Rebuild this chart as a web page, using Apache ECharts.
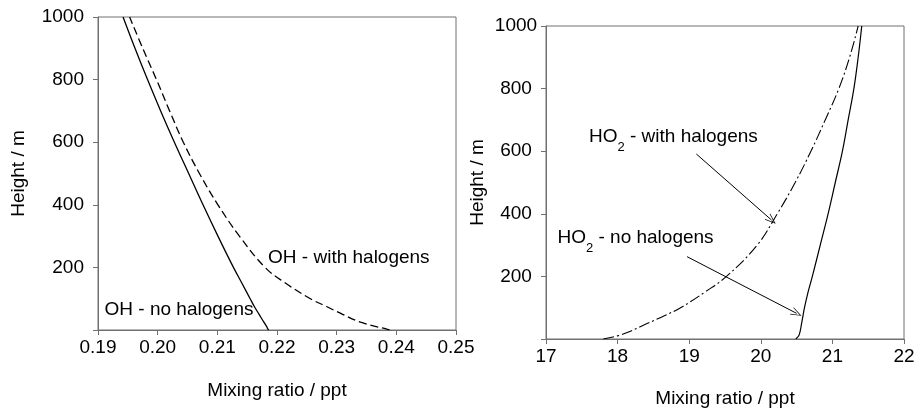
<!DOCTYPE html>
<html>
<head>
<meta charset="utf-8">
<script src="https://cdn.jsdelivr.net/npm/echarts@6/dist/echarts.min.js"></script>
<style>
html,body{margin:0;padding:0;background:#fff;}
#chart{width:916px;height:408px;}
</style>
</head>
<body>
<div id="chart"></div>
<script>
// ---- data ----
const heights = [0, 5, 10, 25, 50, 75, 100, 150, 200, 300, 400, 500, 600, 700, 800, 900, 1000];
const ohNoHalogens   = [0.2186, 0.2184, 0.2183, 0.2178, 0.2170, 0.2162, 0.2155, 0.2141, 0.2127, 0.2101, 0.2076, 0.2052, 0.2028, 0.2005, 0.1983, 0.1962, 0.1942];
const ohWithHalogens = [0.2389, 0.2380, 0.2368, 0.2340, 0.2310, 0.2283, 0.2256, 0.2214, 0.2180, 0.2137, 0.2101, 0.2070, 0.2043, 0.2020, 0.1998, 0.1975, 0.1953];
const ho2NoHalogens   = [20.49, 20.51, 20.53, 20.55, 20.57, 20.59, 20.61, 20.66, 20.72, 20.83, 20.94, 21.04, 21.14, 21.22, 21.30, 21.36, 21.41];
const ho2WithHalogens = [17.80, 17.90, 18.00, 18.18, 18.42, 18.66, 18.88, 19.22, 19.52, 19.95, 20.23, 20.48, 20.70, 20.90, 21.09, 21.24, 21.36];

const yTicks = [200, 400, 600, 800, 1000];
const ohXTicks = [0.19, 0.20, 0.21, 0.22, 0.23, 0.24, 0.25];
const ho2XTicks = [17, 18, 19, 20, 21, 22];

// annotations: [x, height]
const ohWithLabelPos = [0.2185, 230];
const ohNoLabelPos = [0.1911, 65];
const ho2WithLabelPos = [17.60, 646];
const ho2NoLabelPos = [17.16, 322];
const ho2WithArrow = [[19.10, 591], [20.15, 380]];
const ho2NoArrow = [[18.97, 263], [20.50, 82]];

function pairs(xs, ys) { return xs.map((x, i) => [x, ys[i]]); }

const FONT = 'Liberation Sans, Arial, sans-serif';
const AXC = '#707070';
const FS = 19;

function yAxis(gridIndex, labelAlign, labelMargin, nameGap) {
  return {
    type: 'value', gridIndex, min: 0, max: 1000, interval: 200,
    name: 'Height / m', nameLocation: 'middle', nameGap,
    nameTextStyle: { fontFamily: FONT, fontSize: FS, color: '#000' },
    axisLine: { show: true, lineStyle: { color: AXC, width: 1 } },
    axisTick: { show: true, length: 5, lineStyle: { color: AXC } },
    axisLabel: {
      fontFamily: FONT, fontSize: FS, color: '#000', margin: labelMargin, align: labelAlign,
      formatter: v => (yTicks.indexOf(v) >= 0 ? String(v) : '')
    },
    splitLine: { show: false }
  };
}
function xAxis(gridIndex, min, max, interval, fmt, nameGap) {
  return {
    type: 'value', gridIndex, min, max, interval,
    name: 'Mixing ratio / ppt', nameLocation: 'middle', nameGap,
    nameTextStyle: { fontFamily: FONT, fontSize: FS, color: '#000' },
    axisLine: { show: true, lineStyle: { color: AXC, width: 1 } },
    axisTick: { show: true, length: 5, lineStyle: { color: AXC } },
    axisLabel: { fontFamily: FONT, fontSize: FS, color: '#000', margin: 8, formatter: fmt },
    splitLine: { show: false }
  };
}

const richLbl = {
  n: { fontFamily: FONT, fontSize: FS, color: '#000', lineHeight: 22 },
  s: { fontFamily: FONT, fontSize: 13, color: '#000', lineHeight: 22, verticalAlign: 'bottom', padding: [0, 0, -6, 0] }
};

function labelPoint(coord, text) {
  return {
    coord, symbol: 'circle', symbolSize: 0,
    label: { show: true, position: 'right', distance: 0, formatter: text, rich: richLbl,
             fontFamily: FONT, fontSize: FS, color: '#000' }
  };
}

const chevron = 'path://M5,0 L10,12 L9.2,12.4 L5,2.2 L0.8,12.4 L0,12 Z';

function arrowLine(seg) {
  return [{ coord: seg[0], symbol: 'none' }, { coord: seg[1], symbol: chevron, symbolSize: [8, 11] }];
}

const option = {
  backgroundColor: '#fff',
  animation: false,
  grid: [
    { left: 98, top: 17, right: 460, bottom: 78, show: true, borderColor: AXC, borderWidth: 1, outerBoundsMode: 'none', containLabel: false },
    { left: 546, top: 26, right: 12, bottom: 69, show: true, borderColor: AXC, borderWidth: 1, outerBoundsMode: 'none', containLabel: false }
  ],
  xAxis: [
    xAxis(0, 0.19, 0.25, 0.01, v => v.toFixed(2), 51),
    xAxis(1, 17, 22, 1, v => String(Math.round(v)), 50)
  ],
  yAxis: [
    yAxis(0, 'right', 14, 70),
    yAxis(1, 'center', 30, 59)
  ],
  series: [
    {
      type: 'line', xAxisIndex: 0, yAxisIndex: 0, data: pairs(ohNoHalogens, heights),
      showSymbol: false, symbol: 'none', smooth: 0.4,
      lineStyle: { color: '#000', width: 1.3, type: 'solid' },
      markPoint: { silent: true, data: [labelPoint(ohNoLabelPos, 'OH - no halogens')] }
    },
    {
      type: 'line', xAxisIndex: 0, yAxisIndex: 0, data: pairs(ohWithHalogens, heights),
      showSymbol: false, symbol: 'none', smooth: 0.4,
      lineStyle: { color: '#000', width: 1.3, type: [8, 4] },
      markPoint: { silent: true, data: [labelPoint(ohWithLabelPos, 'OH - with halogens')] }
    },
    {
      type: 'line', xAxisIndex: 1, yAxisIndex: 1, data: pairs(ho2NoHalogens, heights),
      showSymbol: false, symbol: 'none', smooth: 0.4,
      lineStyle: { color: '#000', width: 1.2, type: 'solid' },
      markPoint: { silent: true, data: [labelPoint(ho2NoLabelPos, '{n|HO}{s|2}{n| - no halogens}')] },
      markLine: {
        silent: true, symbol: ['none', chevron], symbolSize: [8, 11],
        label: { show: false },
        lineStyle: { color: '#000', width: 1, type: 'solid' },
        data: [arrowLine(ho2NoArrow)]
      }
    },
    {
      type: 'line', xAxisIndex: 1, yAxisIndex: 1, data: pairs(ho2WithHalogens, heights),
      showSymbol: false, symbol: 'none', smooth: 0.4,
      lineStyle: { color: '#000', width: 1.1, type: [11, 3, 2, 3] },
      markPoint: { silent: true, data: [labelPoint(ho2WithLabelPos, '{n|HO}{s|2}{n| - with halogens}')] },
      markLine: {
        silent: true, symbol: ['none', chevron], symbolSize: [8, 11],
        label: { show: false },
        lineStyle: { color: '#000', width: 1, type: 'solid' },
        data: [arrowLine(ho2WithArrow)]
      }
    }
  ]
};

const chart = echarts.init(document.getElementById('chart'), null, { renderer: 'canvas' });
chart.setOption(option);
</script>
</body>
</html>
